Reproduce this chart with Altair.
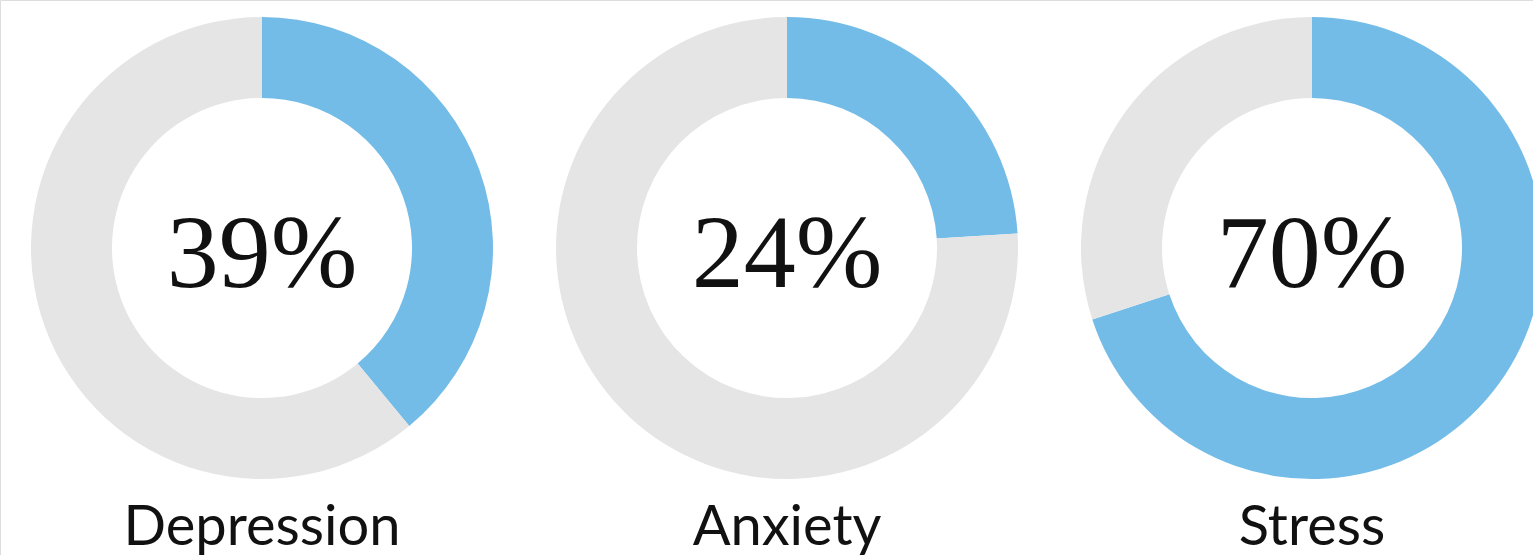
import altair as alt
import pandas as pd

categories = ["Depression", "Anxiety", "Stress"]
values = [39, 24, 70]
pct_labels = ["39%", "24%", "70%"]

rows = []
for c, v in zip(categories, values):
    rows.append({"category": c, "part": "filled", "start": 0, "end": v})
    rows.append({"category": c, "part": "rest", "start": v, "end": 100})
arcs_df = pd.DataFrame(rows)
labels_df = pd.DataFrame({"category": categories, "pct": pct_labels})

xscale = alt.Scale(type="point", domain=categories, range=[262, 1312], padding=0)
x_enc = alt.X("category:N", scale=xscale, axis=None)

arcs = alt.Chart(arcs_df).mark_arc(outerRadius=231, innerRadius=150, strokeWidth=0).encode(
    x=x_enc,
    y=alt.value(248),
    theta=alt.Theta("start:Q", scale=alt.Scale(domain=[0, 100], range=[0, 6.283185307179586])),
    theta2="end:Q",
    color=alt.Color("part:N", scale=alt.Scale(domain=["filled", "rest"], range=["#74BCE8", "#E5E5E5"]), legend=None),
)

pct = alt.Chart(labels_df).mark_text(
    font="Liberation Serif", fontSize=104, color="#111111", baseline="alphabetic", align="center"
).encode(x=x_enc, y=alt.value(287), text="pct:N")

names = alt.Chart(labels_df).mark_text(
    font="Lato", fontSize=56, color="#111111", baseline="alphabetic", align="center"
).encode(x=x_enc, y=alt.value(545), text="category:N")

chart = alt.layer(arcs, pct, names).properties(
    width=1533, height=555, autosize=alt.AutoSizeParams(type="none"), padding=0
).configure_view(stroke=None).configure(background="white")

chart.save("out.html", embed_options={"renderer": "svg", "actions": False})
